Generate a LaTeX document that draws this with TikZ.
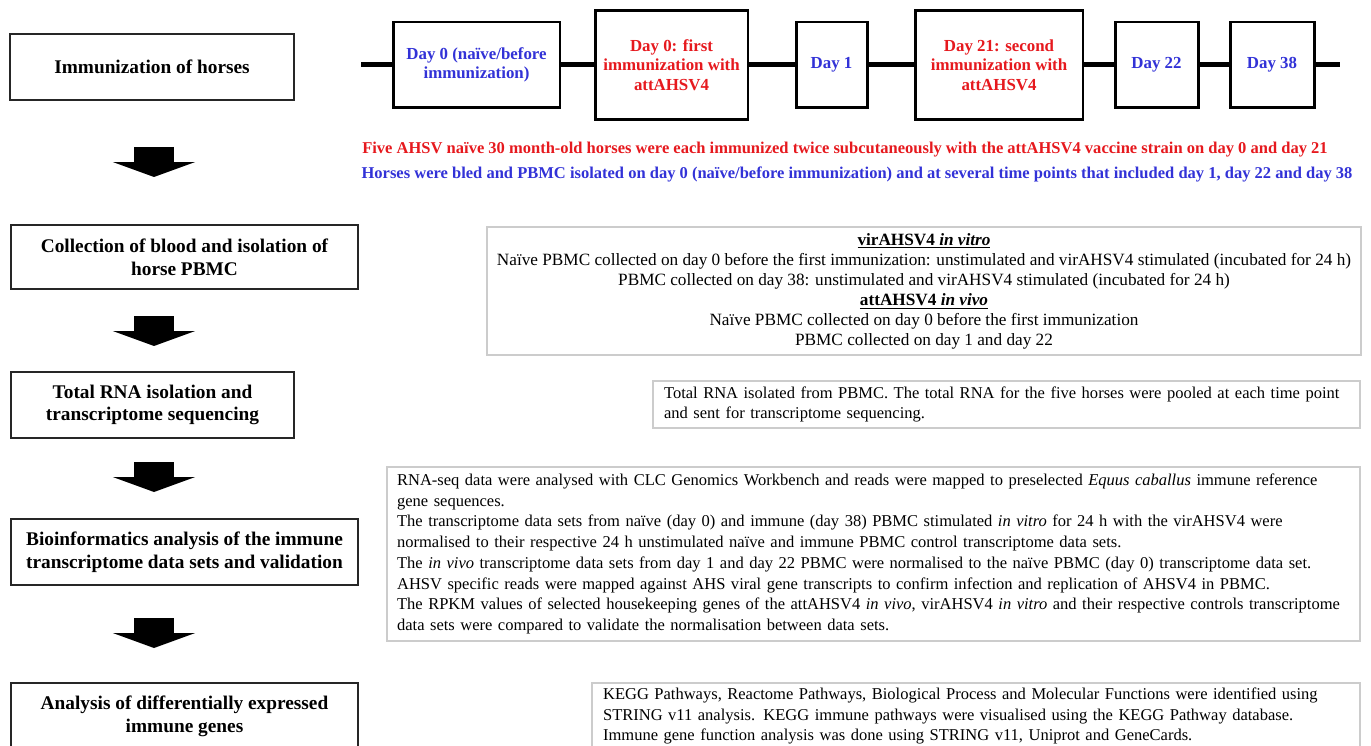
\documentclass[tikz,border=0pt]{standalone}
\usepackage{fontspec}
\setmainfont{Liberation Serif}
\usepackage{tikz}
\usetikzlibrary{arrows.meta}

\definecolor{dayred}{RGB}{230,25,30}
\definecolor{dayblue}{RGB}{50,50,215}

\begin{document}
\begin{tikzpicture}[x=0.02cm, y=-0.02cm,
	stagebox/.style={draw=black!85, line width=0.8pt, fill=white, align=center,
		font=\fontsize{11}{13}\selectfont\bfseries, inner sep=0pt},
	daybox/.style={draw, line width=1.7pt, fill=white, align=center, minimum height=1.72cm,
		font=\fontsize{9.6}{11}\selectfont\bfseries, inner sep=0pt, text=dayblue},
	immbox/.style={daybox, minimum height=2.18cm, text=dayred},
	infobox/.style={draw=black!20, line width=0.8pt, font=\fontsize{9.4}{11.8}\selectfont,
		inner ysep=0pt, inner xsep=0.2cm},
	note/.style={font=\fontsize{9.4}{11}\selectfont\bfseries},
	timeline/.style={line width=0.1cm},
	blockarrow/.style={line width=0.82cm, -{Triangle[width=1.64cm, length=0.3cm]}}
]
	\useasboundingbox (0,0) rectangle (1371,746);
	\clip (0,0) rectangle (1371,746);

	% stages
	\node[stagebox, minimum width=5.68cm, minimum height=1.32cm] (imm) at (152,67) {Immunization of horses};
	\node[stagebox, minimum width=6.94cm, minimum height=1.28cm] (coll) at (184.5,257) {Collection of blood and isolation of\\horse PBMC};
	\node[stagebox, minimum width=5.66cm, minimum height=1.32cm] (rna) at (152.5,405) {Total RNA isolation and\\transcriptome sequencing};
	\node[stagebox, minimum width=6.94cm, minimum height=1.32cm] (bio) at (184.5,552) {Bioinformatics analysis of the immune\\transcriptome data sets and validation};
	\node[stagebox, minimum width=6.94cm, minimum height=1.32cm] (deg) at (184.5,716) {Analysis of differentially expressed\\immune genes};

	\foreach \n/\y in {1/147, 2/316, 3/462, 4/618}{
		\coordinate (a\n) at (154,\y);
		\coordinate (b\n) at (154,\y+30);
		\draw[blockarrow] (a\n) -- (b\n);
	}

	% timeline
	\coordinate (tls) at (361,65);
	\coordinate (tle) at (1340,65);
	\node[daybox, minimum width=3.34cm] (d0) at (476.5,65) {Day 0 (naïve/before\\immunization)};
	\node[immbox, minimum width=3.06cm] (im1) at (671.5,65) {Day 0: first\\immunization with\\attAHSV4};
	\node[daybox, minimum width=1.42cm] (d1) at (831.5,65) {Day 1};
	\node[immbox, minimum width=3.36cm] (im2) at (999,65) {Day 21: second\\immunization with\\attAHSV4};
	\node[daybox, minimum width=1.66cm] (d22) at (1156.5,65) {Day 22};
	\node[daybox, minimum width=1.68cm] (d38) at (1272,65) {Day 38};
	\draw[timeline] (tls) -- (d0) (d0) -- (im1) (im1) -- (d1) (d1) -- (im2)
		(im2) -- (d22) (d22) -- (d38) (d38) -- (tle);

	\node[note, text=dayred] (plan) at (845,150) {Five AHSV naïve 30 month-old horses were each immunized twice subcutaneously with the attAHSV4 vaccine strain on day 0 and day 21};
	\node[note, text=dayblue] (bleed) at (857,174) {Horses were bled and PBMC isolated on day 0 (naïve/before immunization) and at several time points that included day 1, day 22 and day 38};

	% details
	\node[infobox, align=center, minimum width=17.44cm, minimum height=2.56cm,
		font=\fontsize{9.8}{11.4}\selectfont] (vir) at (924,291) {%
		\underline{\textbf{virAHSV4 \textit{in vitro}}}\\
		Naïve PBMC collected on day 0 before the first immunization: unstimulated and virAHSV4 stimulated (incubated for 24 h)\\
		PBMC collected on day 38: unstimulated and virAHSV4 stimulated (incubated for 24 h)\\
		\underline{\textbf{attAHSV4 \textit{in vivo}}}\\
		Naïve PBMC collected on day 0 before the first immunization\\
		PBMC collected on day 1 and day 22};
	\node[infobox, align=left, text width=13.7cm, inner xsep=0.22cm, minimum height=0.94cm] (rnainfo) at (1006.5,404.5) {%
		Total RNA isolated from PBMC. The total RNA for the five horses were pooled at each time point\\
		and sent for transcriptome sequencing.};
	\node[infobox, align=left, text width=19.06cm, minimum height=3.48cm] (bioinfo) at (873.5,554) {%
		RNA-seq data were analysed with CLC Genomics Workbench and reads were mapped to preselected \textit{Equus caballus} immune reference\\
		gene sequences.\\
		The transcriptome data sets from naïve (day 0) and immune (day 38) PBMC stimulated \textit{in vitro} for 24 h with the virAHSV4 were\\
		normalised to their respective 24 h unstimulated naïve and immune PBMC control transcriptome data sets.\\
		The \textit{in vivo} transcriptome data sets from day 1 and day 22 PBMC were normalised to the naïve PBMC (day 0) transcriptome data set.\\
		AHSV specific reads were mapped against AHS viral gene transcripts to confirm infection and replication of AHSV4 in PBMC.\\
		The RPKM values of selected housekeeping genes of the attAHSV4 \textit{in vivo}, virAHSV4 \textit{in vitro} and their respective controls transcriptome\\
		data sets were compared to validate the normalisation between data sets.};
	\node[infobox, align=left, text width=14.92cm, inner xsep=0.22cm, minimum height=1.32cm] (kegg) at (976,716) {%
		KEGG Pathways, Reactome Pathways, Biological Process and Molecular Functions were identified using\\
		STRING v11 analysis. KEGG immune pathways were visualised using the KEGG Pathway database.\\
		Immune gene function analysis was done using STRING v11, Uniprot and GeneCards.};
\end{tikzpicture}
\end{document}
